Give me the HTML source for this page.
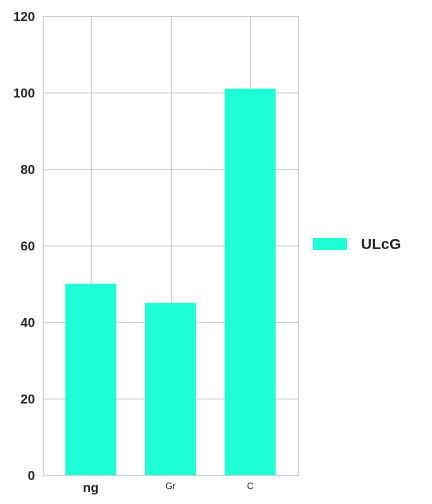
<!DOCTYPE html>
<html><head><meta charset="utf-8"><style>
body{margin:0;background:#fff;width:432px;height:504px;overflow:hidden}
svg{display:block;font-family:"Liberation Sans",sans-serif}
</style></head><body>
<svg id="c" width="432" height="504"></svg>
<script>
const categories=["ng","Gr","C"];
const values=[50,45,101];
const yTicks=[0,20,40,60,80,100,120];
const seriesName="ULcG";
const NS="http://www.w3.org/2000/svg";
const svg=document.getElementById('c');
const L=43,R=298,T=16,B=475,yMax=120;
const y=v=>B-(v/yMax)*(B-T);
const step=(R-L)/(categories.length+0.2);
const xc=i=>L+step*0.6+step*i;
function mk(t,a){const e=document.createElementNS(NS,t);for(const k in a)e.setAttribute(k,a[k]);svg.appendChild(e);return e;}
let f=mk('rect',{x:L+0.5,y:T+0.5,width:R-L,height:B-T,fill:'none',stroke:'#ccc'});


yTicks.forEach(v=>{
 let g=mk('line',{x1:L,x2:R,y1:y(v)+0.5,y2:y(v)+0.5,stroke:'#ccc'});
 
 
 let t=mk('text',{x:35,y:y(v)+5,'text-anchor':'end','font-size':13,'font-weight':'bold',fill:'#222'});
 t.textContent=v;
 
 
});
categories.forEach((c,i)=>{
 let g=mk('line',{x1:Math.round(xc(i))+0.5,x2:Math.round(xc(i))+0.5,y1:T,y2:B,stroke:'#ccc'});
 
 
});
categories.forEach((c,i)=>{
 let b=mk('rect',{x:xc(i)-25.5,y:y(values[i]),width:51,height:B-y(values[i]),fill:'#1effd5'});
 
 
 let big=i===0;
 let t=mk('text',{x:xc(i),y:big?492:489,'text-anchor':'middle','font-size':big?13:9,'font-weight':big?'bold':'normal',fill:'#222'});
 t.textContent=c;
 
 
});
let s=mk('rect',{x:313,y:238,width:34,height:12,fill:'#1effd5'});


let lt=mk('text',{x:361,y:249,'font-size':15,'font-weight':'bold',fill:'#222'});
lt.textContent=seriesName;


</script>
</body></html>
